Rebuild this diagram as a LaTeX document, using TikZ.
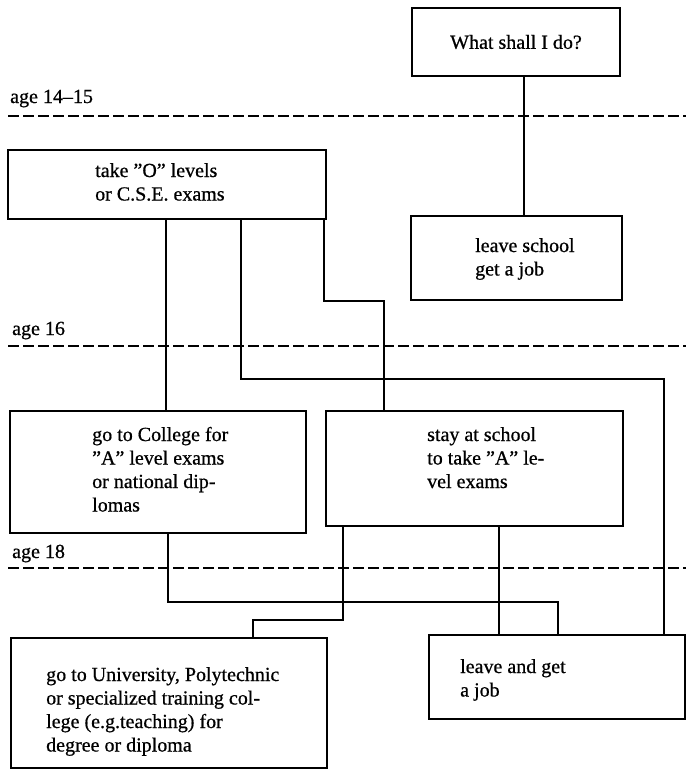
\documentclass[tikz,border=0pt]{standalone}
\usepackage{fontspec}
\setmainfont{Liberation Serif}
\newfontfamily\inkfont{Liberation Serif}[Ligatures=TeX, FakeBold=0.7]
\usetikzlibrary{calc}

\begin{document}
\begin{tikzpicture}[x=1pt,y=-1pt,
  stage/.style={draw, line width=2.6pt, inner sep=0pt, outer sep=0pt, anchor=north west},
  txt/.style={align=left, font=\inkfont\fontsize{20}{23.5}\selectfont, inner sep=0pt, anchor=base west},
  link/.style={line width=2.6pt},
  ageline/.style={line width=2pt, dash pattern=on 11pt off 4pt}]

\useasboundingbox (0,0) rectangle (686,771);

% age bands
\draw[ageline] (8,116) -- (686,116);
\draw[ageline] (8,346) -- (686,346);
\draw[ageline] (8,568) -- (686,568);
\node[txt] (age1) at (10,103) {age 14–15};
\node[txt] (age2) at (12,335) {age 16};
\node[txt] (age3) at (12,558) {age 18};

% boxes
\node[stage, minimum width=208pt, minimum height=68pt,
      font=\inkfont\fontsize{20}{23.5}\selectfont] (what) at (412,8) {What shall I do?};
\node[stage, minimum width=318pt, minimum height=69pt] (takeo) at (8,150) {};
\node[stage, minimum width=211pt, minimum height=84pt] (leaves) at (411,216) {};
\node[stage, minimum width=296pt, minimum height=122pt] (college) at (10,411) {};
\node[stage, minimum width=297pt, minimum height=115pt] (stay) at (326,411) {};
\node[stage, minimum width=316pt, minimum height=130pt] (univ) at (11,638) {};
\node[stage, minimum width=256pt, minimum height=84pt] (leavejob) at (429,635) {};

% box texts (anchored on the baseline of their last line)
\node[txt] (takeoT) at (95,200.5) {take "O" levels\\or C.S.E. exams};
\node[txt] (leavesT) at (475,275.5) {leave school\\get a job};
\node[txt] (collegeT) at (92,511.5) {go to College for\\"A" level exams\\or national dip-\\lomas};
\node[txt] (stayT) at (427,488) {stay at school\\to take "A" le-\\vel exams};
\node[txt] (univT) at (46,751.5) {go to University, Polytechnic\\or specialized training col-\\lege (e.g.teaching) for\\degree or diploma};
\node[txt] (leavejobT) at (460,696.5) {leave and get\\a job};

% jog levels
\coordinate (j1) at (0,379);
\coordinate (j2) at (0,301);
\coordinate (j3) at (0,602);
\coordinate (j4) at (0,620);

% connectors
\draw[link] ($(what.south west)+(112,0)$) coordinate (a1) -- (a1 |- leaves.north);
\draw[link] ($(takeo.south west)+(158,0)$) coordinate (b1) -- (b1 |- college.north);
\draw[link] ($(takeo.south west)+(233,0)$) coordinate (c1) -- (c1 |- j1)
  -| ($(leavejob.north west)+(235,0)$);
\draw[link] ($(takeo.south east)+(-2,0)$) coordinate (d1) -- (d1 |- j2)
  -| ($(stay.north west)+(58,0)$);
\draw[link] ($(college.south west)+(158,0)$) coordinate (e1) -- (e1 |- j3)
  -| ($(leavejob.north west)+(129,0)$);
\draw[link] ($(stay.south west)+(17,0)$) coordinate (f1) -- (f1 |- j4)
  -| ($(univ.north west)+(242,0)$);
\draw[link] ($(stay.south west)+(173,0)$) coordinate (g1) -- (g1 |- leavejob.north);

\end{tikzpicture}
\end{document}
